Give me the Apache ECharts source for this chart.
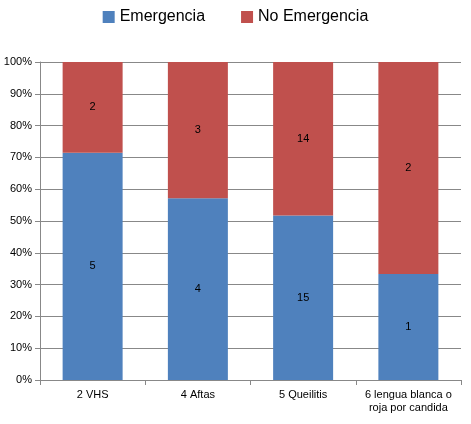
<!DOCTYPE html>
<html><head><meta charset="utf-8">
<script src="https://cdn.jsdelivr.net/npm/echarts@6/dist/echarts.min.js"></script>
<style>html,body{margin:0;padding:0;background:#fff}#c{width:471px;height:424px}</style>
</head><body><div id="c"></div>
<script>
const categories = ['2 VHS','4 Aftas','5 Queilitis','6 lengua blanca o\nroja por candida'];
const emergencia = [5,4,15,1];
const noEmergencia = [2,3,14,2];
const totals = categories.map((_,i)=>emergencia[i]+noEmergencia[i]);
const pct = (arr)=>arr.map((v,i)=>({value:v/totals[i]*100, raw:v}));
const chart = echarts.init(document.getElementById('c'));
const lbl = {show:true,position:'inside',color:'#000',fontSize:11,fontFamily:'Liberation Sans',formatter:p=>p.data.raw};
chart.setOption({
  animation:false,
  textStyle:{fontFamily:'Liberation Sans'},
  legend:{top:4,left:'center',itemWidth:12,itemHeight:12,itemGap:36,icon:'rect',
    textStyle:{fontSize:16,color:'#000'},data:['Emergencia','No Emergencia']},
  grid:{left:40,right:10,top:62,bottom:44},
  xAxis:{type:'category',data:categories,
    axisLine:{lineStyle:{color:'#888'}},axisTick:{show:true,lineStyle:{color:'#888'}},
    axisLabel:{color:'#000',fontSize:11,lineHeight:13,interval:0}},
  yAxis:{type:'value',min:0,max:100,interval:10,
    axisLabel:{formatter:'{value}%',color:'#000',fontSize:11},
    axisLine:{show:true,lineStyle:{color:'#888'}},axisTick:{show:true,lineStyle:{color:'#888'}},
    splitLine:{lineStyle:{color:'#888'}}},
  series:[
    {name:'Emergencia',type:'bar',stack:'s',barWidth:'57%',itemStyle:{color:'#4F81BD'},label:lbl,data:pct(emergencia)},
    {name:'No Emergencia',type:'bar',stack:'s',itemStyle:{color:'#C0504D'},label:lbl,data:pct(noEmergencia)}
  ]
});
</script></body></html>
